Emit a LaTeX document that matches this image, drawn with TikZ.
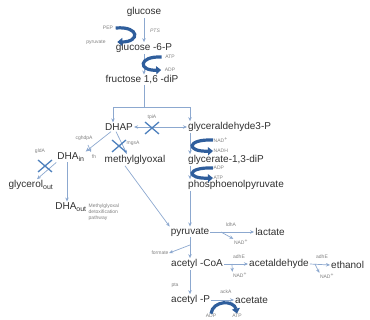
\documentclass[tikz,border=0pt]{standalone}
\usepackage{fontspec}
\setmainfont{Liberation Sans}
\usetikzlibrary{arrows.meta}
\definecolor{txt}{HTML}{303030}
\definecolor{lbl}{HTML}{808080}
\definecolor{thinc}{HTML}{8CA8CF}
\definecolor{thk}{HTML}{2F5E9C}
\definecolor{crs}{HTML}{4F81BD}
\tikzset{
 main/.style={font=\fontsize{10}{11}\selectfont, text=txt, inner sep=1pt},
 lab/.style={font=\fontsize{5}{6}\selectfont, text=lbl, inner sep=0.5pt},
 flow/.style={draw=thinc, line width=0.7pt, -{Stealth[length=4pt,width=3.5pt]}},
 plain/.style={draw=thinc, line width=0.7pt},
 twoway/.style={draw=thinc, line width=0.7pt, {Stealth[length=4pt,width=3.5pt]}-{Stealth[length=4pt,width=3.5pt]}},
 big/.style={draw=thk, line width=3.2pt, -{Triangle[length=5pt,width=8pt]}},
 cross/.style={draw=crs, line width=1.3pt},
}
\newcommand{\crossat}[2]{\draw[cross] (#1-7,#2-6) -- (#1+7,#2+6) (#1-7,#2+6) -- (#1+7,#2-6);}
\begin{document}
\begin{tikzpicture}[x=1pt,y=-1pt]
\useasboundingbox (0,0) rectangle (370,320);
% upper glycolysis
\node[main] (glc) at (144,12) {glucose};
\node[lab] (pep0) at (108,28) {PEP};
\node[lab] (pts) at (155,31) {\itshape PTS};
\node[lab] (pyr0) at (96,42) {pyruvate};
\node[main] (g6p) at (144,48) {glucose -6-P};
\node[lab] (atp1) at (170,57) {ATP};
\node[lab] (adp1) at (170,70) {ADP};
\node[main] (f16) at (142,80) {fructose 1,6 -diP};
\draw[flow] (glc.south) -- (g6p.north);
\draw[flow] (g6p.south) -- (g6p.south |- f16.north);
\draw[big] ([xshift=2pt]pep0.east) .. controls (140,26) and (140,42) .. ([xshift=11pt]pyr0.east);
\draw[big] ([xshift=-3pt]atp1.west) .. controls (138,56) and (138,71) .. ([xshift=-3pt]adp1.west);
\coordinate (br) at (144,107);
% triose
\node[main] (dhap) at (119,127) {DHAP};
\node[main, anchor=west] (gap) at (187,127) {glyceraldehyde3-P};
\draw[plain] (g6p.south |- f16.south) -- (br);
\draw[flow] (br) -| ([xshift=-6pt]dhap.north);
\draw[flow] (br) -| ([xshift=3pt]gap.north west);
\draw[twoway] (dhap.east) -- (gap.west);
\node[lab] (tpi) at (152,117) {tpiA};
\crossat{152}{128}
% lower glycolysis
\node[main, anchor=west] (g13) at (187,160) {glycerate-1,3-diP};
\node[main, anchor=west] (pepn) at (187,185) {phosphoenolpyruvate};
\node[lab, anchor=west] (nad1) at (213,140) {NAD\textsuperscript{+}};
\node[lab, anchor=west] (nadh) at (213,151) {NADH};
\node[lab, anchor=west] (adp2) at (213,168) {ADP};
\node[lab, anchor=west] (atp2) at (213,178) {ATP};
\draw[flow] ([xshift=3pt]gap.south west) -- ([xshift=3pt]g13.north west);
\draw[flow] ([xshift=3pt]g13.south west) -- ([xshift=3pt]pepn.north west);
\draw[big] (nad1.west) .. controls (186,139) and (186,152) .. (nadh.west);
\draw[big] (adp2.west) .. controls (186,167) and (186,179) .. (atp2.west);
% DHA branch
\node[main] (dhain) at (71,157) {DHA\textsubscript{in}};
\node[main] (glyo) at (31,185) {glycerol\textsubscript{out}};
\node[main] (dhaout) at (71,207) {DHA\textsubscript{out}};
\node[main] (mgo) at (135,160) {methylglyoxal};
\node[lab] (cghd) at (84,138) {cghdpA};
\node[lab] (fh) at (94,157) {fh};
\coordinate (fha) at (88,145);
\coordinate (fhb) at (91,152);
\draw[flow] (fha) -- (fhb);
\draw[flow] ([xshift=-8pt]dhap.south) -- (dhain.north east);
\draw[flow] ([xshift=-4pt]dhain.south) -- ([xshift=-4pt]dhaout.north);
\draw[flow] (dhain.south west) -- ([xshift=6pt]glyo.north);
\node[lab] (gld) at (40,151) {gldA};
\crossat{45}{166}
\draw[flow] ([xshift=-3pt]dhap.south) -- ([xshift=-8pt]mgo.north);
\node[lab] (mgs) at (133,143) {mgsA};
\crossat{119}{146}
\node[lab, anchor=west, align=left] (detox) at (88,212) {Methylglyoxal\\detoxification\\pathway};
% pyruvate and beyond
\node[main] (pyr) at (190,232) {pyruvate};
\node[main] (lac) at (270,232) {lactate};
\draw[flow] ([xshift=-10pt]mgo.south) -- (pyr.north west);
\draw[flow] ([xshift=3pt]pepn.south west) -- (pyr.north);
\draw[flow] (pyr.east) -- (lac.west);
\node[lab] (ldh) at (231,225) {ldhA};
\node[lab] (nad2) at (241,242) {NAD\textsuperscript{+}};
\coordinate (ldhb) at (221,232);
\draw[flow] (ldhb) -- (nad2.north west);
\node[main, anchor=west] (acoa) at (170,264) {acetyl -CoA};
\node[main, anchor=west] (acald) at (248,264) {acetaldehyde};
\node[main, anchor=west] (etoh) at (330,265) {ethanol};
\node[lab] (form) at (160,253) {formate};
\coordinate (fbr) at (190,245);
\draw[flow] (pyr.south) -- (acoa.north -| pyr.south);
\draw[flow] (fbr) -- (form.east);
\draw[flow] (acoa.east) -- (acald.west);
\draw[flow] (acald.east) -- (etoh.west);
\node[lab] (adhe1) at (239,257) {adhE};
\node[lab] (nad3) at (240,275) {NAD\textsuperscript{+}};
\coordinate (adb1) at (232,264);
\draw[flow] (adb1) -- (nad3.north west);
\node[lab] (adhe2) at (322,257) {adhE};
\node[lab] (nad4) at (327,276) {NAD\textsuperscript{+}};
\coordinate (adb2) at (315,264);
\draw[flow] (adb2) -- (nad4.north west);
\node[lab] (pta) at (175,285) {pta};
\node[main, anchor=west] (acp) at (170,300) {acetyl -P};
\node[main, anchor=west] (ac) at (234,300) {acetate};
\draw[flow] (acoa.south -| pyr.south) -- (acp.north -| pyr.south);
\draw[flow] (acp.east) -- (ac.west);
\node[lab] (ack) at (226,292) {ackA};
\node[lab] (adp3) at (211,316) {ADP};
\node[lab] (atp3) at (237,316) {ATP};
\draw[big] (adp3.north) .. controls (213,300) and (234,300) .. (atp3.north);
\end{tikzpicture}
\end{document}
